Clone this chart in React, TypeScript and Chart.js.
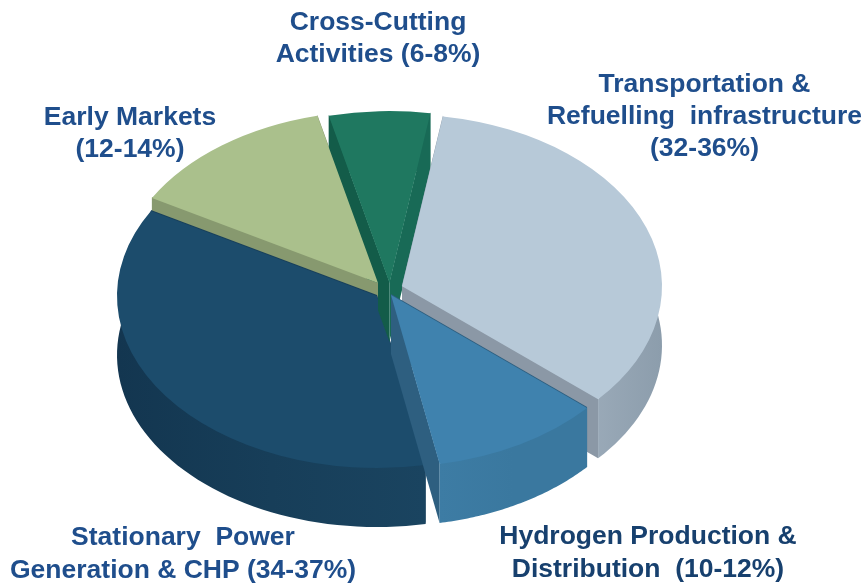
import React, { useEffect, useRef } from "react";
import { Chart, registerables } from "chart.js";

Chart.register(...registerables);

// ---- data (share of the pie, clockwise from the cross-cutting slice)
const categories = [
  "Cross-Cutting Activities",
  "Transportation & Refuelling infrastructure",
  "Hydrogen Production & Distribution",
  "Stationary Power Generation & CHP",
  "Early Markets",
];
const shares = [6.2, 33.55, 10.5, 35.85, 12.9];
const labelLines = [
  ["Cross-Cutting", "Activities (6-8%)"],
  ["Transportation &", "Refuelling  infrastructure", "(32-36%)"],
  ["Hydrogen Production &", "Distribution  (10-12%)"],
  ["Stationary  Power", "Generation & CHP (34-37%)"],
  ["Early Markets", "(12-14%)"],
];

// ---- styling
const topColors = ["#1F7860", "#B7C9D8", "#3F82AE", "#1C4C6C", "#AAC08C"];
const startWallColors = ["#135C49", "#8B98A6", "#2E5F80", "#183F5A", "#87996F"];
const endWallColors = ["#186A56", "#8B98A6", "#2E5F80", "#183F5A", "#87996F"];
const outerWallStops = [
  ["#186A56", "#186A56"],
  ["#A6B5C2", "#A2B1BF", "#8C9DAC"],
  ["#3D7CA4", "#3A789F", "#3A789F"],
  ["#133650", "#173E59", "#1A4460"],
  ["#87996F", "#87996F"],
];
const explodeX = [1.5, 14, 3, -11, -10];
const explodeY = [-10.6, -5.5, 7.6, 9.1, -10.6];
const labelColors = ["#1F4E8C", "#1F4E8C", "#17406E", "#1F4E8C", "#1F4E8C"];
const labelCenters = [
  [378, [30, 62]],
  [704.5, [92, 124, 156]],
  [648, [544, 577]],
  [183, [545, 578]],
  [130, [125, 157]],
];
const FONT = 'bold 26.5px "Liberation Sans", Arial, sans-serif';
const SQUASH = 0.6615;
const DEPTH = 59;
const PIE_RADIUS = 260;

const pie3d = {
  id: "pie3d",
  beforeDatasetsDraw(chart: any) {
    const ctx = chart.ctx;
    const arcs = chart.getDatasetMeta(0).data;
    const project = (i: number, a: number, r: number) => {
      const el = arcs[i];
      return [
        el.x + explodeX[i] + r * Math.cos(a),
        el.y + SQUASH * (explodeY[i] + r * Math.sin(a)),
      ];
    };
    const walls = (i: number) => {
      const el = arcs[i];
      const pt = (a: number, r: number) => project(i, a, r);
      const r = el.outerRadius;
      const apex = pt(0, 0);
      const quad = (p: number[], q: number[], color: any) => {
        ctx.beginPath();
        // the upper edge is tucked 1px under the top face so no pale seam shows
        ctx.moveTo(p[0], p[1] - 1);
        ctx.lineTo(q[0], q[1] - 1);
        ctx.lineTo(q[0], q[1] + DEPTH);
        ctx.lineTo(p[0], p[1] + DEPTH);
        ctx.closePath();
        ctx.fillStyle = color;
        ctx.fill();
      };
      const cutWalls = () => {
        quad(apex, pt(el.startAngle, r), startWallColors[i]);
        quad(apex, pt(el.endAngle, r), endWallColors[i]);
      };
      const rimWall = () => {
        const n = 60;
        const rim: number[][] = [];
        const inner: number[][] = [];
        for (let k = 0; k <= n; k++) {
          const a = el.startAngle + ((el.endAngle - el.startAngle) * k) / n;
          rim.push(pt(a, r));
          inner.push(pt(a, k === 0 || k === n ? r : r - 2));
        }
        const xs = rim.map((p) => p[0]);
        const grad = ctx.createLinearGradient(Math.min(...xs), 0, Math.max(...xs), 0);
        const stops = outerWallStops[i];
        stops.forEach((c, s) => grad.addColorStop(s / (stops.length - 1), c));
        ctx.beginPath();
        inner.forEach((p, k) => (k ? ctx.lineTo(p[0], p[1]) : ctx.moveTo(p[0], p[1])));
        for (let k = n; k >= 0; k--) ctx.lineTo(rim[k][0], rim[k][1] + DEPTH);
        ctx.closePath();
        ctx.fillStyle = grad;
        ctx.fill();
      };
      // a slice in the back half shows its cut walls in front of its rim
      if (Math.sin((el.startAngle + el.endAngle) / 2) < 0) {
        rimWall();
        cutWalls();
      } else {
        cutWalls();
        rimWall();
      }
    };
    const top = (i: number) => {
      const el = arcs[i];
      ctx.save();
      ctx.translate(el.x, el.y);
      ctx.scale(1, SQUASH);
      ctx.translate(-el.x, -el.y);
      ctx.translate(explodeX[i], explodeY[i]);
      el.draw(ctx);
      ctx.restore();
    };
    // painter's order: the exploded slices overlap one another in a fixed sequence
    walls(4);
    walls(3);
    top(3);
    // the cross-cutting walls stay behind the early-markets wall: they are kept
    // out of the area under that slice's lower edge
    const early = arcs[4];
    const ea = project(4, 0, 0);
    const ec = project(4, early.startAngle, early.outerRadius);
    ctx.save();
    ctx.beginPath();
    ctx.rect(0, 0, chart.width, chart.height);
    ctx.moveTo(ea[0], ea[1]);
    ctx.lineTo(ec[0], ec[1]);
    ctx.lineTo(ec[0], chart.height);
    ctx.lineTo(ea[0], chart.height);
    ctx.closePath();
    ctx.clip("evenodd");
    walls(0);
    ctx.restore();
    top(0);
    top(4);
    walls(1);
    top(1);
    walls(2);
    top(2);
    return false;
  },
  afterDraw(chart: any) {
    const ctx = chart.ctx;
    ctx.save();
    ctx.font = FONT;
    ctx.textAlign = "center";
    ctx.textBaseline = "alphabetic";
    labelLines.forEach((lines, i) => {
      const [x, ys] = labelCenters[i] as [number, number[]];
      ctx.fillStyle = labelColors[i];
      lines.forEach((line, j) => ctx.fillText(line, x, ys[j]));
    });
    ctx.restore();
  },
};

export default function App() {
  const ref = useRef<HTMLCanvasElement | null>(null);
  useEffect(() => {
    const chart = new Chart(ref.current as HTMLCanvasElement, {
      type: "pie",
      data: {
        labels: categories,
        datasets: [
          {
            data: shares,
            backgroundColor: topColors,
            borderWidth: 0,
            radius: PIE_RADIUS,
          } as any,
        ],
      },
      options: {
        responsive: false,
        animation: false,
        rotation: -13.5,
        layout: { padding: { left: 0, top: 0, right: 88, bottom: 4 } },
        plugins: { legend: { display: false }, tooltip: { enabled: false } },
      },
      plugins: [pie3d as any],
    });
    return () => chart.destroy();
  }, []);
  return (
    <div style={{ position: "absolute", left: 0, top: 0, width: 864, height: 584, background: "#fff" }}>
      <canvas ref={ref} width={864} height={584} style={{ display: "block" }} />
    </div>
  );
}
